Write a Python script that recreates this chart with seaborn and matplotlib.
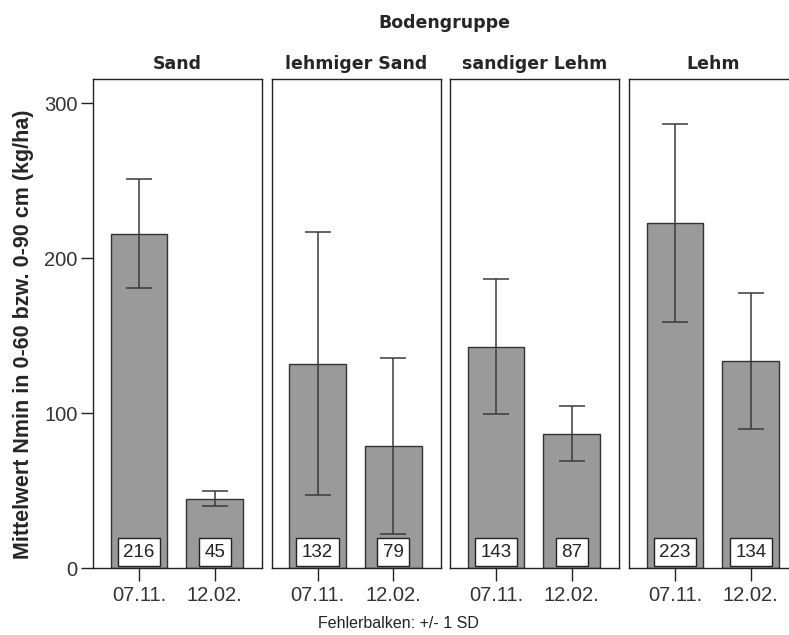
import numpy as np
import pandas as pd
import matplotlib
matplotlib.use("Agg")
import matplotlib.pyplot as plt
import seaborn as sns

# values
groups = ["Sand", "lehmiger Sand", "sandiger Lehm", "Lehm"]
dates = ["07.11.", "12.02."]
means = [216, 45, 132, 79, 143, 87, 223, 134]
sds = [35, 4.6, 85, 57, 43.5, 18, 64, 44]

df = pd.DataFrame({
    "Bodengruppe": np.repeat(groups, 2),
    "Termin": dates * 4,
    "Nmin": means,
    "SD": sds,
})

sns.set_style("white")
plt.rcParams["font.family"] = ["Liberation Sans", "DejaVu Sans"]

fig = plt.figure(figsize=(7.89, 6.35), dpi=100)

W, H = 789, 635
lefts = [93, 271.7, 450, 629]
pw, top, bottom = 169, 78.7, 568.3

bar_col = "#9a9a9a"
edge_col = "#333333"
title_font = ["DejaVu Sans"]

for i, g in enumerate(groups):
    ax = fig.add_axes([lefts[i] / W, 1 - bottom / H, pw / W, (bottom - top) / H])
    sub = df[df["Bodengruppe"] == g]
    sns.barplot(data=sub, x="Termin", y="Nmin", order=dates, color=bar_col,
                errorbar=None, width=0.75, edgecolor=edge_col, linewidth=1,
                saturation=1, ax=ax)
    ax.errorbar(range(len(sub)), sub["Nmin"], yerr=sub["SD"], fmt="none",
                ecolor="#3a3a3a", elinewidth=1.1, capsize=9.5, capthick=1.1)
    for j, v in enumerate(sub["Nmin"]):
        ax.text(j, 10.5, str(v), ha="center", va="center", fontsize=13.5, color="#222222",
                bbox=dict(boxstyle="square,pad=0.3", fc="white", ec="#222222", lw=1))
    ax.set_xlim(-0.608, 1.625)
    ax.set_ylim(0, 316)
    ax.set_xlabel("")
    ax.set_ylabel("")
    ax.set_title(g, fontsize=12.5, fontweight="bold", family=title_font, pad=7)
    for s in ax.spines.values():
        s.set_color("#222222")
        s.set_linewidth(1)
    ax.tick_params(axis="x", direction="out", length=9, width=1, color="#222222",
                   labelsize=14.5, labelcolor="#333333", bottom=True, pad=4)
    if i == 0:
        ax.set_yticks([0, 100, 200, 300])
        ax.tick_params(axis="y", direction="out", length=9, width=1, color="#222222",
                       labelsize=14.5, labelcolor="#333333", left=True, pad=2)
    else:
        ax.set_yticks([])

fig.text(444 / W, 1 - 23 / H, "Bodengruppe", ha="center", va="center",
         fontsize=12.5, fontweight="bold", family=title_font)
fig.text(24 / W, 1 - 334 / H, "Mittelwert Nmin in 0-60 bzw. 0-90 cm (kg/ha)",
         rotation=90, ha="center", va="center", fontsize=15.5, fontweight="bold")
fig.text(398 / W, 1 - 624 / H, "Fehlerbalken: +/- 1 SD", ha="center", va="center",
         fontsize=11.5, color="#222222")

fig.savefig("out.png", dpi=100)
